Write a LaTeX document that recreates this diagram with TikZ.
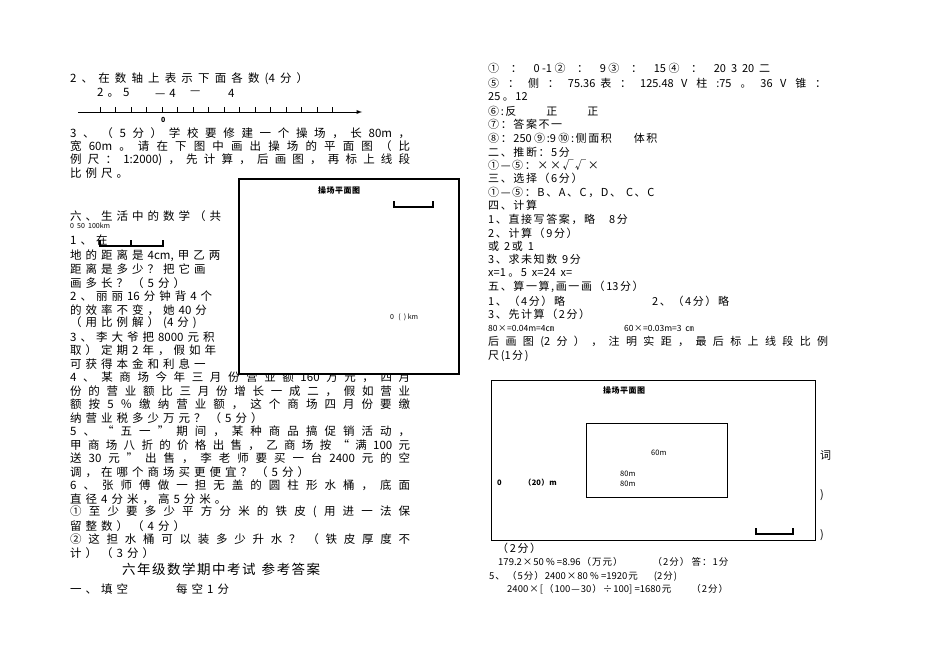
\documentclass[tikz,border=0pt]{standalone}
\usepackage{fontspec}
\setmainfont{Noto Sans CJK SC}
\newcount\cc
\newcommand\setcls[2]{\cc=#1 \loop\XeTeXcharclass\cc=5 \ifnum\cc<#2 \advance\cc by 1 \repeat}
\setcls{"4E00}{"9FFF}
\setcls{"3000}{"303F}
\setcls{"FF00}{"FFEF}
\setcls{"2460}{"2473}
\setcls{"2014}{"201D}
\setcls{"00D7}{"00D7}
\setcls{"00F7}{"00F7}
\setcls{"221A}{"221A}
\setcls{"33A0}{"33A0}
\XeTeXinterchartokenstate=1
\newdimen\cgap \cgap=4pt
\newcommand\sg[1]{\cgap#1\relax}
\newcommand\cg{\hskip\cgap plus 1fil minus 3pt\relax}
\XeTeXinterchartoks 5 5 = {\cg}
\XeTeXinterchartoks 0 5 = {\cg}
\XeTeXinterchartoks 5 0 = {\cg}
\tikzset{tl/.style={anchor=west,inner sep=0pt,font=\fontsize{11.5}{12}\selectfont\sg{4pt}},
 tr/.style={anchor=west,inner sep=0pt,font=\fontsize{11}{12}\selectfont\sg{1.6pt}},
 sm/.style={anchor=west,inner sep=0pt,font=\fontsize{7}{8}\selectfont\sg{0.5pt}},
 frame/.style={draw,line width=1.6pt,fill=white},
 bar/.style={line width=1.4pt}}
\newcommand\LJ[3]{\node[tl] at (70,#1) {\hbox to #2pt{#3}};}
\newcommand\LN[3]{\node[tl] at (#1,#2) {\hbox{#3}};}
\newcommand\RN[2]{\node[tr] at (488,#1) {\hbox{#2}};}
\begin{document}
\begin{tikzpicture}[x=1pt,y=-1pt]
\useasboundingbox[fill=white] (0,0) rectangle (950,658);
% ---- left column
\node[tl] at (70,79) {\hbox to 238pt{2、在数轴上表示下面各数(4分）}};
\LN{97}{93}{2。5}\LN{155}{93}{—4}\LN{190}{93}{—}\LN{228}{93}{4}
\draw[-latex,line width=0.9pt] (78,112) coordinate (ax1) -- (362,112) coordinate (ax2);
\foreach \i in {0,...,15}{\draw[line width=1pt] (100+\i*15.5,112) -- ++(0,-5);}
\node[sm,font=\bfseries\fontsize{7}{8}\selectfont] at (161,120) {0};
\LJ{133}{340}{3、（5分）学校要修建一个操场，长80m，}
\LJ{146}{340}{宽60m。请在下图中画出操场的平面图（比}
\LJ{160}{340}{例尺：1:2000)，先计算，后画图，再标上线段}
\LN{70}{173}{比例尺。}
\begin{scope}
\clip (60,205) rectangle (237,372);
\LN{70}{216}{六、生活中的数学（共}
\LN{70}{256}{地的距离是4cm,甲乙两}
\LN{70}{269}{距离是多少？把它画}
\LN{70}{296}{2、丽丽16分钟背4个}
\LN{70}{310}{的效率不变，她40分}
\LN{70}{337}{3、李大爷把8000元积}
\LN{70}{350}{取）定期2年，假如年}
\LN{70}{364}{可获得本金和利息一}
\end{scope}
\node[sm] at (70,226) {0 \ 50 \ 100km};
\LN{70}{240}{1、在}
\draw[bar] (100,240) -- (100,246) -- (163,246) -- (163,240) (131,246) -- (131,240);
\LN{70}{283}{画多长？（5分）}
\LN{70}{323}{（用比例解）(4分)}
\LJ{377}{340}{4、某商场今年三月份营业额160万元，四月}
\LJ{391}{340}{份的营业额比三月份增长一成二，假如营业}
\LJ{404}{340}{额按5％缴纳营业额，这个商场四月份要缴}
\LN{70}{418}{纳营业税多少万元？（5分）}
\LJ{431}{340}{5、“五一”期间，某种商品搞促销活动，}
\LJ{445}{340}{甲商场八折的价格出售，乙商场按“满100元}
\LJ{458}{340}{送30元”出售，李老师要买一台2400元的空}
\LN{70}{472}{调，在哪个商场买更便宜？（5分）}
\LJ{485}{340}{6、张师傅做一担无盖的圆柱形水桶，底面}
\LN{70}{499}{直径4分米，高5分米。}
\LJ{512}{340}{①至少要多少平方分米的铁皮(用进一法保}
\LN{70}{526}{留整数）（4分）}
\LJ{539}{340}{②这担水桶可以装多少升水？（铁皮厚度不}
\LN{70}{553}{计）（3分）}
\node[anchor=west,inner sep=0pt,font=\fontsize{13.5}{15}\selectfont\sg{1.5pt}] at (122,569) {\hbox{六年级数学期中考试\ \ 参考答案}};
\LN{70}{589}{一、填空}\LN{176}{589}{每空1分}
% box 1
\node[frame,minimum width=220pt,minimum height=195pt,anchor=north west] (b1) at (238,178) {};
\node[sm,font=\bfseries\fontsize{8}{9}\selectfont\sg{0.5pt}] at (318,190) {操场平面图};
\draw[bar] (394,201) -- (394,207) -- (433,207) -- (433,201);
\node[sm] at (390,317) {0 \ \,(\ \ ) km};
% ---- right column
\node[tr] at (488,68) {\hbox to 282pt{①：0 -1 ②：9 ③：15 ④：20 \ 3 \ 20 \ 二}};
\node[tr] at (488,83) {\hbox to 338pt{⑤：侧：75.36 \ 表：125.48 \ \ V柱:75。36 \ \ V锥：}};
\RN{97}{25 。12}
\RN{111}{⑥:反\hspace{30pt}正\hspace{30pt}正}
\RN{124}{⑦：答案不一}
\RN{138}{⑧：250 ⑨:9 ⑩:侧面积\hspace{22pt}体积}
\RN{152}{二、推断：5分}
\RN{165}{①—⑤：××√√×}
\RN{178}{三、选择（6分）}
\RN{192}{①—⑤：B、A、C，D、\ \ C、C}
\RN{205}{四、计算}
\RN{219}{1、直接写答案，略\hspace{14pt}8分}
\RN{233}{2、计算（9分）}
\RN{246}{或 \ 2或 \ 1}
\RN{259}{3、求未知数 \ 9分}
\RN{273}{x=1 。5 \ x=24 \ x=}
\RN{287}{五、算一算,画一画（13分）}
\RN{301}{1、（4分）略}\node[tr] at (652,301) {2、（4分）略};
\RN{314}{3、先计算（2分）}
\node[sm,font=\fontsize{8.5}{9}\selectfont\sg{0.5pt}] at (488,328) {80×=0.04m=4㎝};
\node[sm,font=\fontsize{8.5}{9}\selectfont\sg{0.5pt}] at (624,328) {60×=0.03m=3\ \ ㎝};
\node[tr] at (488,342) {\hbox to 340pt{后画图(2分），注明实距，最后标上线段比例}};
\RN{356}{尺(1分)}
% box 2
\node[frame,line width=1.4pt,minimum width=324pt,minimum height=160pt,anchor=north west] (b2) at (491,380) {};
\node[sm,font=\bfseries\fontsize{8}{9}\selectfont\sg{0.5pt}] at (603,390) {操场平面图};
\node[draw,line width=1.4pt,minimum width=141pt,minimum height=74pt,anchor=north west] (r) at (586,423) {};
\node[sm,font=\fontsize{7.5}{8}\selectfont] at (651,453) {60m};
\node[sm,font=\fontsize{7.5}{8}\selectfont] at (620,474) {80m};
\node[sm,font=\fontsize{7.5}{8}\selectfont] at (620,484) {80m};
\node[sm,font=\bfseries\fontsize{7.5}{8}\selectfont\sg{0.5pt}] at (497,483) {0\hspace{22pt}（20）m};
\draw[bar] (756,528) -- (756,534) -- (793,534) -- (793,528);
\node[tr] at (820,455) {词};\node[tr] at (820,495) {)};\node[tr] at (820,535) {)};
\node[tr] at (497,548) {（2分）};
\node[sm,font=\fontsize{9.5}{11}\selectfont\sg{1pt}] at (498,562) {179.2×50 \% =8.96（万元）\hspace{30pt}（2分） 答：1分};
\node[sm,font=\fontsize{9.5}{11}\selectfont\sg{1pt}] at (489,576) {5、\ （5分）2400×80 \% =1920元\hspace{16pt}(2分)};
\node[sm,font=\fontsize{9.5}{11}\selectfont\sg{1pt}] at (507,589) {2400×[（100—30）÷100] =1680元\hspace{20pt}（2分）};
\end{tikzpicture}
\end{document}
